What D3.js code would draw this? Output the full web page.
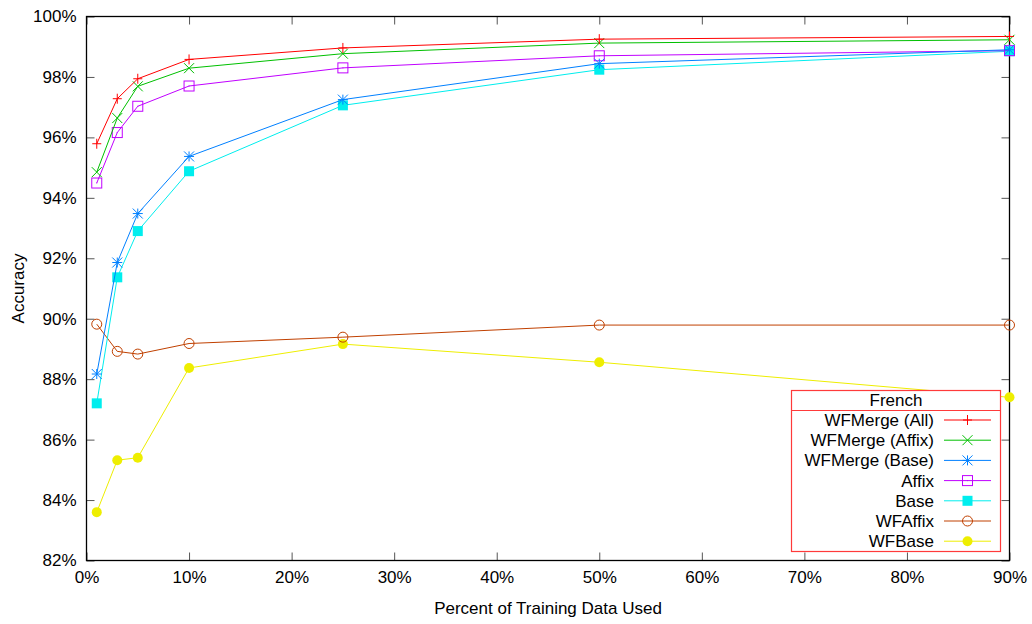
<!DOCTYPE html>
<html>
<head>
<meta charset="utf-8">
<script src="https://cdn.jsdelivr.net/npm/d3@7"></script>
<style>
  body { margin: 0; background: #fff; }
  text { font-family: "Liberation Sans", Arial, sans-serif; }
</style>
</head>
<body>
<script>
// data
var pcts = [1, 3, 5, 10, 25, 50, 90];
var wfMergeAll   = [95.79, 97.28, 97.94, 98.58, 98.96, 99.25, 99.34];
var wfMergeAffix = [94.85, 96.64, 97.69, 98.29, 98.77, 99.12, 99.23];
var wfMergeBase  = [88.17, 91.86, 93.48, 95.37, 97.25, 98.44, 98.90];
var affix        = [94.49, 96.16, 97.03, 97.70, 98.30, 98.70, 98.87];
var base         = [87.20, 91.37, 92.90, 94.88, 97.06, 98.24, 98.85];
var wfAffix      = [89.82, 88.92, 88.83, 89.18, 89.39, 89.79, 89.79];
var wfBase       = [83.60, 85.32, 85.40, 88.37, 89.16, 88.56, 87.40];

var seriesNames = ["WFMerge (All)", "WFMerge (Affix)", "WFMerge (Base)", "Affix", "Base", "WFAffix", "WFBase"];
var seriesValues = [wfMergeAll, wfMergeAffix, wfMergeBase, affix, base, wfAffix, wfBase];
var colors = ["#ff0000", "#00c000", "#0080ff", "#c000ff", "#00eeee", "#c04000", "#eeee00"];
var markers = ["plus", "cross", "star", "box", "boxfill", "circle", "circlefill"];

var xTicks = [0, 10, 20, 30, 40, 50, 60, 70, 80, 90];
var yTicks = [82, 84, 86, 88, 90, 92, 94, 96, 98, 100];

var W = 1032, H = 624;
var plotLeft = 86.5, plotRight = 1009.5, plotTop = 16.5, plotBottom = 560.5;
var fontSize = "17px";

var svg = d3.select("body").append("svg")
    .attr("width", W)
    .attr("height", H);

var x = d3.scaleLinear().domain([0, 90]).range([plotLeft, plotRight]);
var y = d3.scaleLinear().domain([82, 100]).range([plotBottom, plotTop]);

// axes, ticks pointing inward on all four sides
function styleAxis(g) {
    g.select(".domain").remove();
    g.selectAll(".tick line").attr("stroke", "#555").attr("stroke-width", 1);
    g.selectAll(".tick text")
        .attr("font-size", fontSize)
        .attr("fill", "#000")
        .style("font-family", "'Liberation Sans', Arial, sans-serif");
}

svg.append("g")
    .attr("transform", "translate(0," + plotBottom + ")")
    .call(d3.axisBottom(x).tickValues(xTicks).tickSizeInner(-8).tickSizeOuter(0)
        .tickPadding(10).tickFormat(function(d) { return d + "%"; }))
    .call(styleAxis);

svg.append("g")
    .attr("transform", "translate(0," + plotTop + ")")
    .call(d3.axisTop(x).tickValues(xTicks).tickSizeInner(-8).tickSizeOuter(0).tickFormat(""))
    .call(styleAxis);

svg.append("g")
    .attr("transform", "translate(" + plotLeft + ",0)")
    .call(d3.axisLeft(y).tickValues(yTicks).tickSizeInner(-8).tickSizeOuter(0)
        .tickPadding(10).tickFormat(function(d) { return d + "%"; }))
    .call(styleAxis);

svg.append("g")
    .attr("transform", "translate(" + plotRight + ",0)")
    .call(d3.axisRight(y).tickValues(yTicks).tickSizeInner(-8).tickSizeOuter(0).tickFormat(""))
    .call(styleAxis);

// frame
svg.append("rect")
    .attr("x", plotLeft).attr("y", plotTop)
    .attr("width", plotRight - plotLeft).attr("height", plotBottom - plotTop)
    .attr("fill", "none").attr("stroke", "#000").attr("stroke-width", 1.3);

// axis titles
svg.append("text")
    .attr("x", 548).attr("y", 614)
    .attr("text-anchor", "middle").attr("font-size", fontSize)
    .text("Percent of Training Data Used");

svg.append("text")
    .attr("transform", "translate(24," + ((plotTop + plotBottom) / 2) + ") rotate(-90)")
    .attr("text-anchor", "middle").attr("font-size", fontSize)
    .text("Accuracy");

// marker drawing
function drawMarker(g, type, cx, cy, color) {
    var s = 5;
    if (type == "plus") {
        g.append("path").attr("d", "M" + (cx - 4.5) + "," + cy + "H" + (cx + 4.5) + "M" + cx + "," + (cy - 5) + "V" + (cy + 5))
            .attr("stroke", color).attr("stroke-width", 1).attr("fill", "none");
    } else if (type == "cross") {
        g.append("path").attr("d", "M" + (cx - s) + "," + (cy - s) + "L" + (cx + s) + "," + (cy + s) +
                "M" + (cx - s) + "," + (cy + s) + "L" + (cx + s) + "," + (cy - s))
            .attr("stroke", color).attr("stroke-width", 1).attr("fill", "none");
    } else if (type == "star") {
        g.append("path").attr("d", "M" + (cx - s) + "," + cy + "H" + (cx + s) + "M" + cx + "," + (cy - s) + "V" + (cy + s) +
                "M" + (cx - s) + "," + (cy - s) + "L" + (cx + s) + "," + (cy + s) +
                "M" + (cx - s) + "," + (cy + s) + "L" + (cx + s) + "," + (cy - s))
            .attr("stroke", color).attr("stroke-width", 1).attr("fill", "none");
    } else if (type == "box") {
        g.append("rect").attr("x", cx - 5).attr("y", cy - 5).attr("width", 10).attr("height", 10)
            .attr("stroke", color).attr("stroke-width", 1).attr("fill", "none");
        g.append("rect").attr("x", cx - 0.5).attr("y", cy - 0.5).attr("width", 1).attr("height", 1).attr("fill", color);
    } else if (type == "boxfill") {
        g.append("rect").attr("x", cx - 5).attr("y", cy - 5).attr("width", 10).attr("height", 10)
            .attr("fill", color);
    } else if (type == "circle") {
        g.append("circle").attr("cx", cx).attr("cy", cy).attr("r", 5)
            .attr("stroke", color).attr("stroke-width", 1).attr("fill", "none");
    } else if (type == "circlefill") {
        g.append("circle").attr("cx", cx).attr("cy", cy).attr("r", 5).attr("fill", color);
    }
}

var line = d3.line()
    .x(function(d) { return x(d[0]); })
    .y(function(d) { return y(d[1]); });

// draw in reverse so the first series ends up on top
for (var i = seriesNames.length - 1; i >= 0; i--) {
    var pts = pcts.map(function(p, j) { return [p, seriesValues[i][j]]; });
    var g = svg.append("g");
    g.append("path")
        .datum(pts)
        .attr("d", line)
        .attr("fill", "none")
        .attr("stroke", colors[i])
        .attr("stroke-width", 1);
    pts.forEach(function(d) {
        drawMarker(g, markers[i], x(d[0]), y(d[1]), colors[i]);
    });
}

// legend
var lg = svg.append("g");
var lx0 = 791.5, lx1 = 1000.5, ly0 = 390.5, ly1 = 551.5, lyTitle = 410.5;
lg.append("rect")
    .attr("x", lx0).attr("y", ly0).attr("width", lx1 - lx0).attr("height", ly1 - ly0)
    .attr("fill", "#fff").attr("stroke", "#ff3a3a").attr("stroke-width", 1.2);
lg.append("line")
    .attr("x1", lx0).attr("x2", lx1).attr("y1", lyTitle).attr("y2", lyTitle)
    .attr("stroke", "#ff3a3a").attr("stroke-width", 1.2);
lg.append("text")
    .attr("x", (lx0 + lx1) / 2).attr("y", 400.5).attr("dy", "0.35em")
    .attr("text-anchor", "middle").attr("font-size", fontSize)
    .text("French");

seriesNames.forEach(function(name, i) {
    var ry = 420 + i * 20.2;
    lg.append("text")
        .attr("x", 934).attr("y", ry).attr("dy", "0.35em")
        .attr("text-anchor", "end").attr("font-size", fontSize)
        .text(name);
    lg.append("line")
        .attr("x1", 944).attr("x2", 991).attr("y1", ry).attr("y2", ry)
        .attr("stroke", colors[i]).attr("stroke-width", 1);
    drawMarker(lg, markers[i], 967.5, ry, colors[i]);
});
</script>
</body>
</html>
